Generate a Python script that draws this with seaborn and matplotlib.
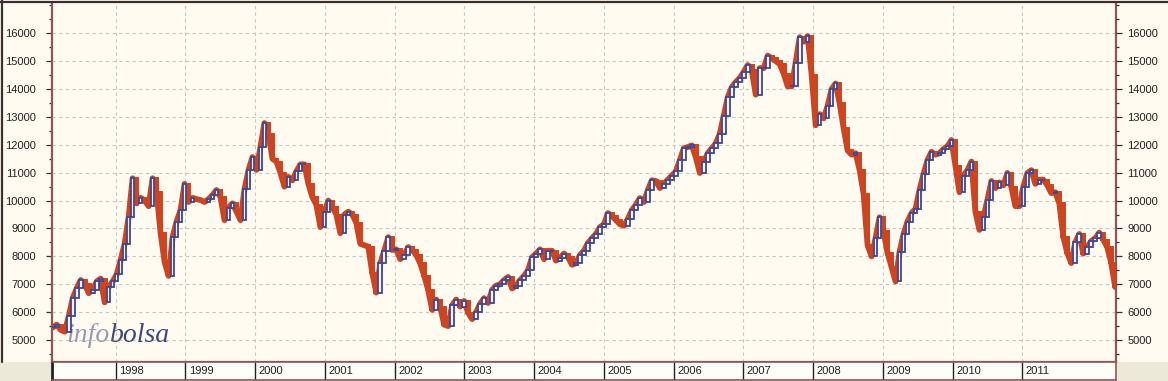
import numpy as np
import pandas as pd
import matplotlib
matplotlib.use("Agg")
import matplotlib.pyplot as plt
import matplotlib.dates as mdates
import matplotlib.transforms as mtransforms
from matplotlib.patches import Rectangle
from matplotlib.lines import Line2D
from matplotlib.ticker import MultipleLocator, FixedLocator
import seaborn as sns

# ---------------- data (3-weekly closes) ----------------
close = [
    5450, 5550, 5360, 5300, 5850, 6500, 6850, 7150, 7000, 6680,
    6790, 7100, 7200, 6350, 6900, 7100, 7350, 7870, 8450, 9410,
    10800, 9900, 10100, 10000, 9800, 10800, 10300, 8830, 7800, 7300,
    8690, 9250, 9660, 10600, 9950, 10100, 10050, 10020, 9950, 10050,
    10200, 10380, 10120, 9300, 9750, 9900, 9600, 9300, 10400, 11090,
    11560, 11100, 11920, 12780, 12400, 11500, 11400, 11000, 10500, 10850,
    10730, 11050, 11300, 11300, 10600, 10120, 9850, 9050, 9600, 10000,
    9770, 9500, 8830, 9500, 9600, 9500, 9200, 8450, 8400, 8350,
    7400, 6700, 7750, 8200, 8690, 8230, 8250, 7900, 8050, 8330,
    8230, 8050, 7750, 7300, 6790, 6080, 6450, 6180, 5550, 5500,
    6250, 6450, 6200, 6400, 5970, 5750, 6000, 6300, 6500, 6330,
    6800, 6950, 7000, 7150, 7260, 6850, 6950, 7150, 7300, 7500,
    7970, 8100, 8250, 7900, 8200, 8200, 7850, 7950, 8100, 7970,
    7700, 7750, 8050, 8200, 8480, 8650, 8800, 9050, 9150, 9550,
    9450, 9300, 9150, 9100, 9350, 9660, 9850, 10090, 9950, 10380,
    10730, 10700, 10450, 10600, 10750, 10900, 11050, 11450, 11880, 11920,
    11980, 11550, 10990, 11400, 11700, 11880, 12050, 12400, 13050, 13710,
    14070, 14250, 14400, 14620, 14860, 14680, 13800, 14750, 14750, 15200,
    15100, 15000, 14900, 14550, 14100, 14100, 14950, 15860, 15700, 15900,
    14500, 12700, 13100, 12950, 13400, 14000, 14200, 13490, 12600, 11800,
    11650, 11700, 11100, 10250, 8400, 8000, 8650, 9400, 8900, 8120,
    7620, 7100, 8150, 8800, 9250, 9550, 9700, 10380, 10950, 11450,
    11750, 11650, 11700, 11850, 11950, 12170, 11250, 10300, 10900, 11090,
    11400, 9600, 8950, 9400, 10020, 10700, 10450, 10650, 10550, 10990,
    10480, 9800, 9800, 10500, 10990, 11090, 10600, 10750, 10750, 10550,
    10270, 10300, 9900, 8700, 8120, 7760, 8500, 8800, 8100, 8330,
    8550, 8650, 8850, 8600, 8330, 7760, 6900,
]
first_date = "1997-02-06"
last_date = "2012-05-01"
view_start = "1997-02-02"
view_end = "2012-05-05"
year_labels = list(range(1998, 2012))
y_major = list(range(5000, 17000, 1000))
y_limits = (4211, 17087)

# ---------------- style ----------------
sns.set_style("white")
plt.rcParams["font.family"] = ["Liberation Sans", "DejaVu Sans"]

BG = "#fffbf0"
STRIP_BG = "#fffdf8"
GRAY = "#ece9d8"
MAROON = "#8e5656"
RED = "#cc4420"
BLUE = "#3c4898"
TXT = "#222222"

W, H = 1168, 381
fig = plt.figure(figsize=(W / 100, H / 100), dpi=100, facecolor=BG)

dates = pd.date_range(first_date, last_date, periods=len(close))
x = mdates.date2num(dates)
c = np.asarray(close, dtype=float)
o = np.concatenate([[c[0]], c[:-1]])
up = c >= o
lo = np.minimum(o, c)
hgt = np.abs(c - o)

ax = fig.add_axes([52 / W, 19 / H, 1064 / W, 359 / H])
ax.set_facecolor(BG)
ax.set_xlim(*mdates.date2num(pd.to_datetime([view_start, view_end])))
ax.set_ylim(*y_limits)
ax.set_axisbelow(True)

year_pos = mdates.date2num(pd.to_datetime([f"{y}-01-01" for y in year_labels]))
ax.xaxis.set_major_locator(FixedLocator(year_pos))
ax.yaxis.set_major_locator(FixedLocator(y_major))
ax.yaxis.set_minor_locator(MultipleLocator(500))
ax.grid(True, which="major", color="#c6c6c6", linestyle=(0, (3, 3)), linewidth=0.8)
ax.tick_params(axis="x", which="both", bottom=False, labelbottom=False)
ax.tick_params(axis="y", which="major", left=True, direction="out", length=4.3, width=0.9,
               color="#333333", pad=7.0, labelsize=8, labelcolor=TXT)
ax.tick_params(axis="y", which="minor", left=True, direction="out", length=2.2, width=0.9,
               color="#333333")

for side in ("left", "right", "bottom"):
    ax.spines[side].set_color(MAROON)
    ax.spines[side].set_linewidth(1.6)
ax.spines["top"].set_visible(False)

# thick close band behind the candles
sns.lineplot(x=x, y=c, ax=ax, color=RED, linewidth=4.2, zorder=2)

# candles
wdt = 19
ax.bar(x[~up], hgt[~up], bottom=lo[~up], width=wdt, color=RED,
       edgecolor=RED, linewidth=1.4, zorder=3)
ax.bar(x[up], hgt[up], bottom=lo[up], width=wdt, color="#f8f2ec",
       edgecolor=BLUE, linewidth=1.3, zorder=3)

# right-hand axis labels
ax2 = ax.twinx()
ax2.set_ylim(*y_limits)
ax2.yaxis.set_major_locator(FixedLocator(y_major))
ax2.yaxis.set_minor_locator(MultipleLocator(500))
ax2.tick_params(axis="y", which="major", right=True, direction="out", length=4.3, width=0.9,
                color="#333333", pad=4.0, labelsize=8, labelcolor=TXT)
ax2.tick_params(axis="y", which="minor", right=True, direction="out", length=2.2, width=0.9,
                color="#333333")
for s in ax2.spines.values():
    s.set_visible(False)
ax2.patch.set_visible(False)

# watermark
t1 = ax.text(0.014, 0.0557, "info", transform=ax.transAxes, fontsize=20,
             family="Liberation Serif", style="italic", color="#9a9ab2",
             va="baseline", ha="left", zorder=1)
fig.canvas.draw()
bb = t1.get_window_extent()
ax.text(0.014, 0.0557, "bolsa",
        transform=mtransforms.offset_copy(ax.transAxes, fig=fig, x=bb.width, y=0, units="dots"),
        fontsize=20, family="Liberation Serif", style="italic", color="#3c4a7c",
        va="baseline", ha="left", zorder=1)

# bottom date strip
axs = fig.add_axes([52 / W, 1 / H, 1064 / W, 18 / H])
axs.set_facecolor(STRIP_BG)
axs.set_xlim(ax.get_xlim())
axs.set_ylim(0, 1)
axs.set_yticks([])
axs.xaxis.set_major_locator(FixedLocator(year_pos))
axs.tick_params(axis="x", which="major", bottom=True, top=False, direction="in",
                length=13, width=1.0, color=TXT, labelbottom=False)
axs.tick_params(axis="x", which="minor", bottom=False, top=False)
axs.spines["left"].set_color("#222222")
axs.spines["left"].set_linewidth(2.0)
for side in ("bottom", "right", "top"):
    axs.spines[side].set_color(MAROON)
    axs.spines[side].set_linewidth(1.2)
trans = mtransforms.offset_copy(
    mtransforms.blended_transform_factory(axs.transData, axs.transAxes),
    fig=fig, x=3.5, y=0, units="dots")
for yl, xp in zip(year_labels, year_pos):
    axs.text(xp, 0.5, str(yl), transform=trans, fontsize=8, color=TXT,
             ha="left", va="center")

# gray corners and frame
fig.add_artist(Rectangle((0, 0), 51 / W, 19 / H, transform=fig.transFigure,
                         facecolor=GRAY, edgecolor="none", zorder=-1))
fig.add_artist(Rectangle((1117 / W, 0), 51 / W, 19 / H, transform=fig.transFigure,
                         facecolor=GRAY, edgecolor="none", zorder=-1))
fig.add_artist(Line2D([0, 1], [1 - 1.5 / H, 1 - 1.5 / H], transform=fig.transFigure,
                      color="#3a2e2e", linewidth=1.6))
fig.add_artist(Line2D([1.5 / W, 1.5 / W], [19 / H, 1], transform=fig.transFigure,
                      color="#3a2e2e", linewidth=1.6))

fig.savefig("out.png", dpi=100, facecolor=fig.get_facecolor())
